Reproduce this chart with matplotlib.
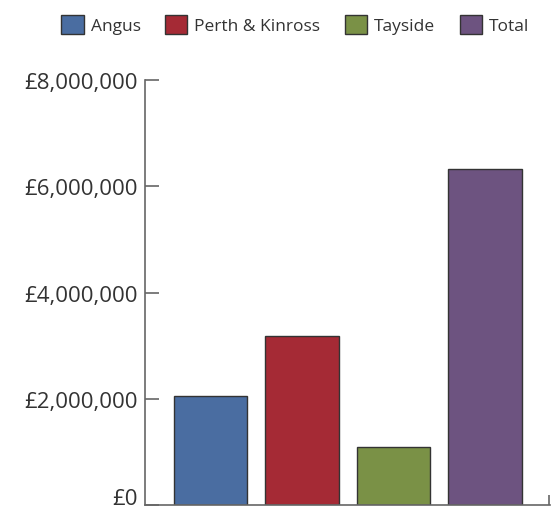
import matplotlib.pyplot as plt
import matplotlib.transforms as mtransforms
from matplotlib.ticker import FuncFormatter

plt.rcParams['font.family'] = ['Open Sans', 'DejaVu Sans']

# data
regions = ['Angus', 'Perth & Kinross', 'Tayside', 'Total']
amounts = [2050000, 3180000, 1090000, 6330000]
colours = ['#4a6da1', '#a52a35', '#7a9146', '#6d5380']

fig = plt.figure(figsize=(5.52, 5.10), dpi=100)
ax = fig.add_axes([0.2627, 0.0078, 0.7337, 0.8333])

xs = range(len(regions))
ax.bar(xs, amounts, width=0.8, color=colours, edgecolor='#333333', linewidth=1.0)

ax.set_ylim(0, 8000000)
ax.set_xlim(-0.716, 3.71)
ax.set_yticks([0, 2000000, 4000000, 6000000, 8000000])
ax.yaxis.set_major_formatter(FuncFormatter(lambda v, p: '£{:,.0f}'.format(v)))
ax.set_xticks([3.70])
ax.set_xticklabels([''])

for s in ['top', 'right']:
    ax.spines[s].set_visible(False)
for s in ['left', 'bottom']:
    ax.spines[s].set_color('#666666')
    ax.spines[s].set_linewidth(1.2)

ax.tick_params(axis='y', direction='in', length=10, width=1.2, color='#666666',
               labelsize=16, labelcolor='#333333', pad=5)
ax.tick_params(axis='x', direction='in', length=7, width=1.2, color='#666666')

# lift the £0 label so it stays inside the picture
lbl0 = ax.get_yticklabels()[0]
lbl0.set_transform(lbl0.get_transform() +
                   mtransforms.ScaledTranslation(0, 9 / 100, fig.dpi_scale_trans))

handles = [plt.Rectangle((0, 0), 1, 1, facecolor=c, edgecolor='#333333', linewidth=1.0)
           for c in colours]
fig.legend(handles, regions, loc='upper center', bbox_to_anchor=(0.535, 1.0),
           ncol=4, frameon=False, fontsize=12.5, handlelength=1.3, handleheight=1.3,
           handletextpad=0.4, columnspacing=1.4, labelcolor='#333333')

fig.savefig('out.png', dpi=100)
